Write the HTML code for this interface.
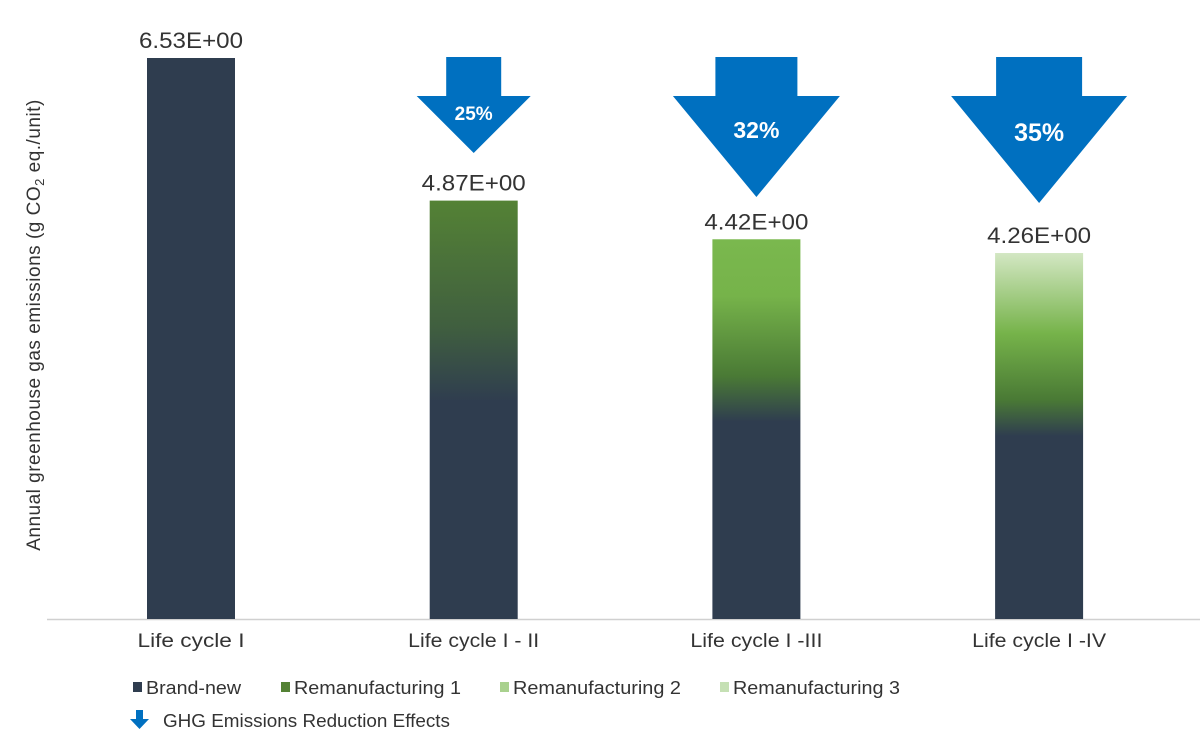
<!DOCTYPE html>
<html><head><meta charset="utf-8"><style>
body{margin:0;background:#fff;font-family:"Liberation Sans",sans-serif}
svg text{font-family:"Liberation Sans",sans-serif}
</style></head><body>
<svg id="c" width="1200" height="739">
<defs>
<linearGradient id="g2" x1="0" y1="1" x2="0" y2="0">
<stop offset="0" stop-color="#2f3d4f"/><stop offset="0.52" stop-color="#2f3d4f"/><stop offset="0.7" stop-color="#405f3f"/><stop offset="1" stop-color="#548235"/></linearGradient>
<linearGradient id="g3" x1="0" y1="1" x2="0" y2="0">
<stop offset="0" stop-color="#2f3d4f"/><stop offset="0.52" stop-color="#2f3d4f"/><stop offset="0.64" stop-color="#4a7a35"/><stop offset="0.85" stop-color="#76b34a"/><stop offset="1" stop-color="#7ab84e"/></linearGradient>
<linearGradient id="g4" x1="0" y1="1" x2="0" y2="0">
<stop offset="0" stop-color="#2f3d4f"/><stop offset="0.5" stop-color="#2f3d4f"/><stop offset="0.6" stop-color="#4a7a35"/><stop offset="0.78" stop-color="#76b34a"/><stop offset="1" stop-color="#d3e7c3"/></linearGradient>
</defs>
<line x1="47" y1="619.5" x2="1200" y2="619.5" stroke="#d0d0d0" stroke-width="1.5"/>
<text transform="translate(40,325) rotate(-90)" text-anchor="middle" font-size="19" letter-spacing="0.5" fill="#333">Annual greenhouse gas emissions (g CO<tspan font-size="13" dy="4">2</tspan><tspan dy="-4"> eq./unit)</tspan></text>
<g id="bars"></g>
<g id="legend" font-size="18" fill="#333">
<rect x="133" y="682" width="9" height="10" fill="#2f3d4f"/>
<text x="146" y="694" textLength="95" lengthAdjust="spacingAndGlyphs">Brand-new</text>
<rect x="281" y="682" width="9" height="10" fill="#548235"/>
<text x="294" y="694" textLength="167" lengthAdjust="spacingAndGlyphs">Remanufacturing 1</text>
<rect x="500" y="682" width="9" height="10" fill="#a9d18e"/>
<text x="513" y="694" textLength="168" lengthAdjust="spacingAndGlyphs">Remanufacturing 2</text>
<rect x="720" y="682" width="9" height="10" fill="#c5e0b4"/>
<text x="733" y="694" textLength="167" lengthAdjust="spacingAndGlyphs">Remanufacturing 3</text>
<path d="M136,710 h7 v9 h6 l-9.5,10 l-9.5,-10 h6z" fill="#0070c0"/>
<text x="163" y="727" textLength="287" lengthAdjust="spacingAndGlyphs">GHG Emissions Reduction Effects</text>
</g>
</svg>
<script>
const categories=["Life cycle I","Life cycle I - II","Life cycle I -III","Life cycle I -IV"];
const values=[6.53,4.87,4.42,4.26];
const valueLabels=["6.53E+00","4.87E+00","4.42E+00","4.26E+00"];
const reductions=[null,"25%","32%","35%"];
const fills=["#2f3d4f","url(#g2)","url(#g3)","url(#g4)"];
const catLen=[107,131,132,134];
const base=619, pxPer=561/6.53, x0=191, step=282.7, bw=88;
const y=v=>base-v*pxPer, xc=i=>x0+i*step;
const ns="http://www.w3.org/2000/svg", g=document.getElementById('bars');
function mk(t,a){const e=document.createElementNS(ns,t);for(const k in a)e.setAttribute(k,a[k]);g.appendChild(e);return e;}
const arrowW=[[55,114,153],[82,167,197],[86,176,203]];
values.forEach((v,i)=>{
 const r=mk('rect',{x:xc(i)-bw/2,y:y(v),width:bw,height:base-y(v),fill:fills[i]});
 
 
 const t=mk('text',{x:xc(i),y:y(v)-10,'text-anchor':'middle','font-size':'22',fill:'#333',textLength:104,lengthAdjust:'spacingAndGlyphs'});t.textContent=valueLabels[i];
 
 
 const c=mk('text',{x:xc(i),y:647,'text-anchor':'middle','font-size':'19',fill:'#333',textLength:catLen[i],lengthAdjust:'spacingAndGlyphs'});c.textContent=categories[i];
 
 
 if(reductions[i]){
  const [sw,hw,tip]=arrowW[i-1],cx=xc(i);
  const p=mk('path',{d:`M${cx-sw/2},57 H${cx+sw/2} V96 H${cx+hw/2} L${cx},${tip} L${cx-hw/2},96 H${cx-sw/2}Z`,fill:'#0070c0'});
  
  
  const fs=[19,23,25][i-1], ty=[120,138,141][i-1];
  const rt=mk('text',{x:cx,y:ty,'text-anchor':'middle','font-size':fs,'font-weight':'bold',fill:'#fff'});rt.textContent=reductions[i];
  
  
 }
});
</script>
</body></html>
